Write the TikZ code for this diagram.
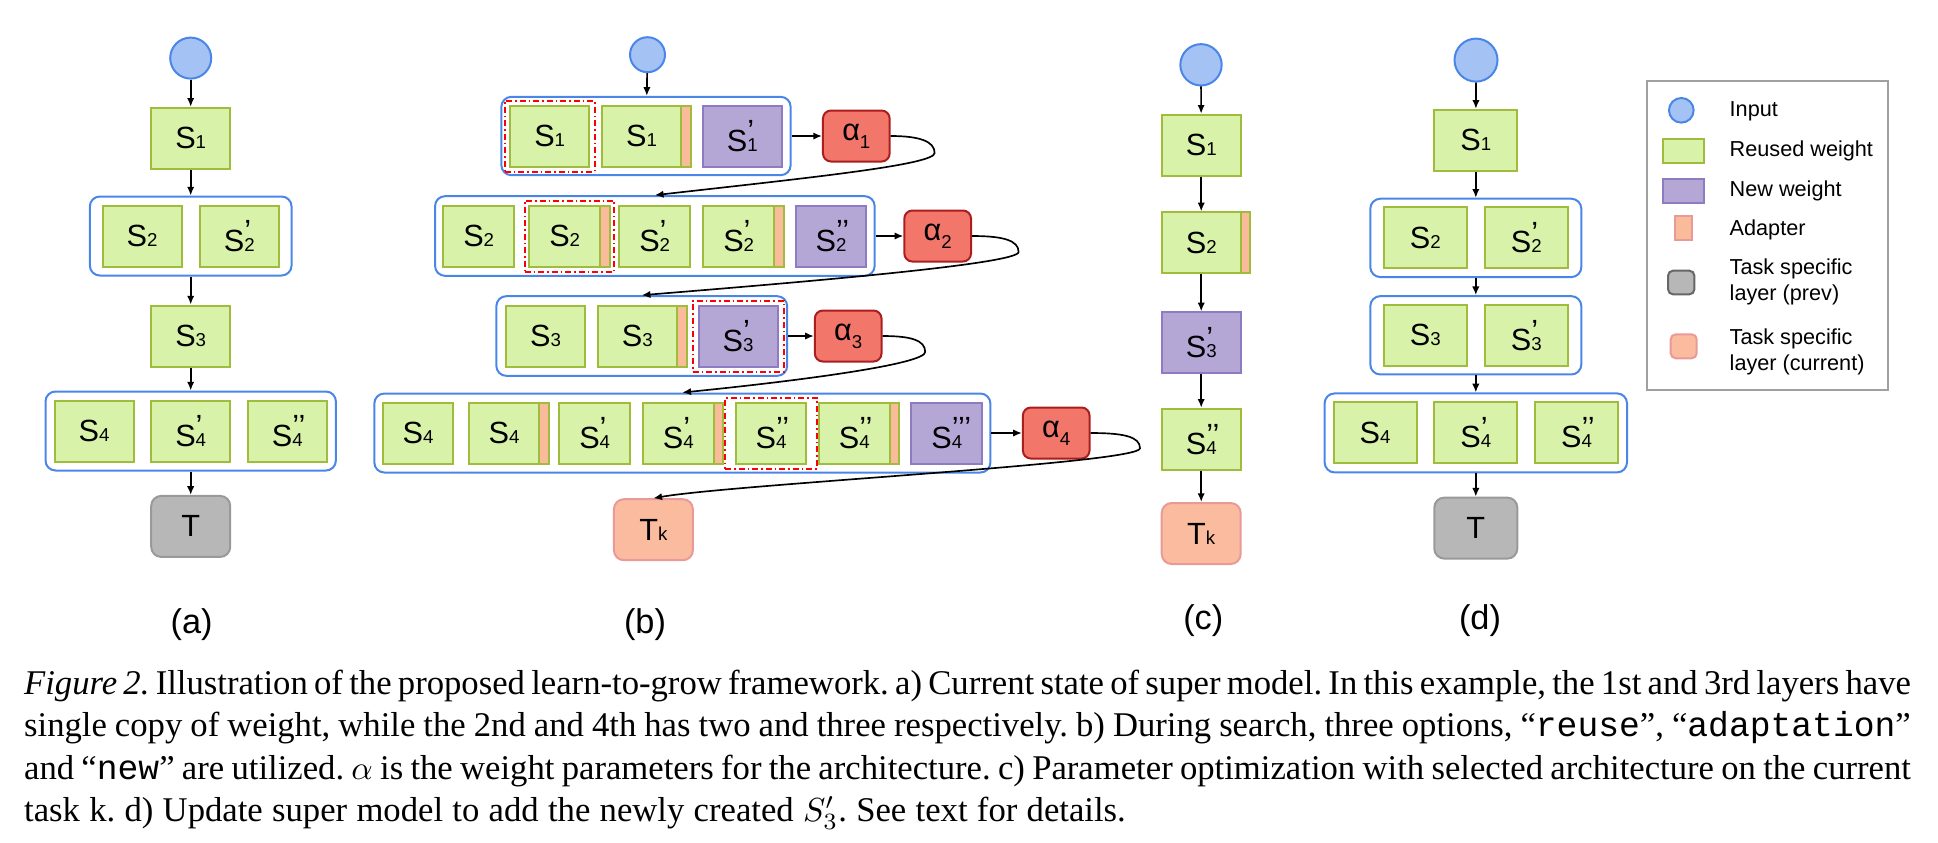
\documentclass[tikz,border=0pt]{standalone}
\usepackage{fontspec}
\setmainfont{Liberation Serif}
\setsansfont{Liberation Sans}
\setmonofont{Liberation Mono}
\usetikzlibrary{arrows.meta, positioning, fit, calc}

\definecolor{reuseGreen}{RGB}{217,242,169}
\definecolor{reuseLine}{RGB}{160,188,60}
\definecolor{newPurple}{RGB}{180,167,214}
\definecolor{newLine}{RGB}{142,124,195}
\definecolor{adaptPeach}{RGB}{249,187,154}
\definecolor{curPeach}{RGB}{250,187,158}
\definecolor{curLine}{RGB}{234,153,153}
\definecolor{prevGray}{RGB}{183,183,183}
\definecolor{prevLine}{RGB}{153,153,153}
\definecolor{legendDark}{RGB}{102,102,102}
\definecolor{legendGray}{RGB}{160,160,160}
\definecolor{alphaRed}{RGB}{243,118,106}
\definecolor{alphaLine}{RGB}{170,30,30}
\definecolor{inputBlue}{RGB}{164,194,244}
\definecolor{inputLine}{RGB}{74,134,232}
\definecolor{groupBlue}{RGB}{74,134,232}

% small digits and primes of the weight labels
\newcommand{\subsz}{\fontsize{5.6pt}{6pt}\selectfont}
\newcommand{\wlab}[2]{S\rlap{\raisebox{0.3em}{#2}}{\subsz #1}}
\newcommand{\alab}[1]{α\raisebox{-2.5pt}{\subsz #1}}

\begin{document}
\frenchspacing
\begin{tikzpicture}[x=0.3pt, y=-0.3pt,
    font=\sffamily\fontsize{9.2pt}{11pt}\selectfont,
    blk/.style={draw, line width=0.6pt, minimum width=23.7pt, minimum height=18.3pt, inner sep=0pt},
    narrow/.style={minimum width=21.2pt},
    wide/.style={minimum width=24.9pt},
    reuse/.style={blk, draw=reuseLine, fill=reuseGreen},
    fresh/.style={blk, draw=newLine, fill=newPurple},
    adapt/.style={blk, draw=reuseLine, fill=adaptPeach, minimum width=2.9pt},
    grp/.style={draw=groupBlue, line width=0.6pt, rounded corners=3pt, inner xsep=2.4pt, inner ysep=2.4pt},
    inp/.style={circle, draw=inputLine, fill=inputBlue, line width=0.6pt, minimum size=12.3pt, inner sep=0pt},
    task/.style={blk, rounded corners=3pt, draw=prevLine, fill=prevGray},
    taskk/.style={blk, rounded corners=3pt, draw=curLine, fill=curPeach},
    alpha/.style={draw=alphaLine, fill=alphaRed, line width=0.6pt, rounded corners=2.4pt,
                  minimum width=20pt, minimum height=15.3pt, inner sep=0pt},
    pick/.style={draw=red, line width=0.6pt, dash pattern=on 1.8pt off 0.9pt on 0.45pt off 0.9pt,
                 inner xsep=1.3pt, inner ysep=1.2pt},
    arr/.style={-{Latex[length=2.6pt,width=2.2pt]}, line width=0.5pt},
    sublab/.style={font=\sffamily\fontsize{10.3pt}{12pt}\selectfont},
    leg/.style={font=\sffamily\fontsize{6.5pt}{8pt}\selectfont, inner sep=0pt},
    capline/.style={font=\rmfamily\fontsize{10.4pt}{12pt}\selectfont, inner sep=0pt, anchor=base west}
  ]
    \useasboundingbox (0,0) rectangle (1938,842);

    % (a) current super model
    \node[inp] (ain) at (190.7,58.1) {};
    \node[reuse] (aS1) at (190.7,138.3) {\wlab{1}{}};
    \node[reuse] (aS2) at (142,236) {\wlab{2}{}};
    \node[reuse] (aS2p) at (239.4,236) {\wlab{2}{’}};
    \node[grp, fit=(aS2)(aS2p), inner xsep=3.5pt] (ag2) {};
    \node[reuse] (aS3) at (190.7,336) {\wlab{3}{}};
    \node[reuse] (aS4) at (94,431) {\wlab{4}{}};
    \node[reuse] (aS4p) at (190.7,431) {\wlab{4}{’}};
    \node[reuse] (aS4pp) at (287.4,431) {\wlab{4}{’’}};
    \node[grp, fit=(aS4)(aS4pp)] (ag4) {};
    \node[task] (aT) at (190.7,526.4) {T};
    \node[sublab] (alab) at (191.7,625) {(a)};

    \draw[arr] (ain) -- (aS1);
    \draw[arr] (aS1) -- (ag2);
    \draw[arr] (ag2) -- (aS3);
    \draw[arr] (aS3) -- (ag4);
    \draw[arr] (ag4) -- (aT);

    % (b) search with reuse / adaptation / new
    \node[inp, minimum size=10.5pt] (bin) at (647.5,54.7) {};

    \node[reuse] (b1a) at (549.7,136) {\wlab{1}{}};
    \node[reuse] (b1b) at (641.5,136) {\wlab{1}{}};
    \node[adapt, right=-0.6pt of b1b] (b1bx) {};
    \node[fresh] (b1c) at (742.3,136) {\wlab{1}{’}};
    \node[grp, fit=(b1a)(b1c), inner xsep=2.35pt, inner ysep=2.3pt] (bg1) {};
    \node[pick, fit=(b1a)] (bp1) {};
    \node[alpha, right=9.1pt of bg1] (al1) {\alab{1}};

    \node[reuse, narrow] (b2a) at (478.7,236) {\wlab{2}{}};
    \node[reuse, narrow] (b2b) at (564.7,236) {\wlab{2}{}};
    \node[adapt, right=-0.6pt of b2b] (b2bx) {};
    \node[reuse, narrow] (b2c) at (654.7,236) {\wlab{2}{’}};
    \node[reuse, narrow] (b2d) at (738.7,236) {\wlab{2}{’}};
    \node[adapt, right=-0.6pt of b2d] (b2dx) {};
    \node[fresh, narrow] (b2e) at (831,236) {\wlab{2}{’’}};
    \node[grp, fit=(b2a)(b2e), inner xsep=2.2pt, inner ysep=2.5pt] (bg2) {};
    \node[pick, fit=(b2b)(b2bx), inner xsep=1.1pt] (bp2) {};
    \node[alpha, right=8.3pt of bg2] (al2) {\alab{2}};

    \node[reuse] (b3a) at (545.5,336) {\wlab{3}{}};
    \node[reuse] (b3b) at (637.4,336) {\wlab{3}{}};
    \node[adapt, right=-0.6pt of b3b] (b3bx) {};
    \node[fresh] (b3c) at (738,336) {\wlab{3}{’}};
    \node[grp, fit=(b3a)(b3c), inner xsep=2.6pt, inner ysep=2.5pt] (bg3) {};
    \node[pick, fit=(b3c), inner xsep=1.5pt] (bp3) {};
    \node[alpha, right=7.7pt of bg3] (al3) {\alab{3}};

    \node[reuse, narrow] (b4a) at (418,433) {\wlab{4}{}};
    \node[reuse, narrow] (b4b) at (504,433) {\wlab{4}{}};
    \node[adapt, right=-0.6pt of b4b] (b4bx) {};
    \node[reuse, narrow] (b4c) at (594.7,433) {\wlab{4}{’}};
    \node[reuse, narrow] (b4d) at (678.3,433) {\wlab{4}{’}};
    \node[adapt, right=-0.6pt of b4d] (b4dx) {};
    \node[reuse, narrow] (b4e) at (771,433) {\wlab{4}{’’}};
    \node[reuse, narrow] (b4f) at (854.4,433) {\wlab{4}{’’}};
    \node[adapt, right=-0.6pt of b4f] (b4fx) {};
    \node[fresh, narrow] (b4g) at (946.7,433) {\wlab{4}{’’’}};
    \node[grp, fit=(b4a)(b4g), inner xsep=2.2pt, inner ysep=2.4pt] (bg4) {};
    \node[pick, fit=(b4e), inner xsep=2.85pt] (bp4) {};
    \node[alpha, right=9.15pt of bg4] (al4) {\alab{4}};

    \node[taskk] (bTk) at (653.4,529.7) {T{\subsz k}};
    \node[sublab] (blab) at (645,625) {(b)};

    \coordinate (bt1) at ($(al1.east)+(44,17)$);
    \coordinate (bt2) at ($(al2.east)+(46.6,16)$);
    \coordinate (bt3) at ($(al3.east)+(42.7,16)$);
    \coordinate (bt4) at ($(al4.east)+(49.5,15.3)$);

    \draw[arr] (bin) -- (bg1);
    \draw[arr] (bg1) -- (al1);
    \draw[arr] (bg2) -- (al2);
    \draw[arr] (bg3) -- (al3);
    \draw[arr] (bg4) -- (al4);
    \draw[arr] (al1.east) .. controls ($(al1.east)+(28,0)$) and ($(bt1)+(0,-12)$) .. (bt1)
      .. controls ($(bt1)+(0,12)$) and ($(bg2.north)+(150,-17)$) .. (bg2.north);
    \draw[arr] (al2.east) .. controls ($(al2.east)+(30,0)$) and ($(bt2)+(0,-12)$) .. (bt2)
      .. controls ($(bt2)+(0,12)$) and ($(bg3.north)+(160,-13)$) .. (bg3.north);
    \draw[arr] (al3.east) .. controls ($(al3.east)+(28,0)$) and ($(bt3)+(0,-12)$) .. (bt3)
      .. controls ($(bt3)+(0,12)$) and ($(bg4.north)+(120,-12)$) .. (bg4.north);
    \draw[arr] (al4.east) .. controls ($(al4.east)+(32,0)$) and ($(bt4)+(0,-12)$) .. (bt4)
      .. controls ($(bt4)+(0,15)$) and ($(bTk.north)+(80,-14)$) .. (bTk.north);

    % (c) selected architecture
    \node[inp, minimum size=12.4pt] (cin) at (1201,64.8) {};
    \node[reuse] (cS1) at (1201.2,145.2) {\wlab{1}{}};
    \node[reuse] (cS2) at (1201.2,242.9) {\wlab{2}{}};
    \node[adapt, right=-0.6pt of cS2] (cS2x) {};
    \node[fresh] (cS3) at (1201.2,342.9) {\wlab{3}{’}};
    \node[reuse] (cS4) at (1201.2,439.2) {\wlab{4}{’’}};
    \node[taskk] (cTk) at (1201.2,533.5) {T{\subsz k}};
    \node[sublab] (clab) at (1203.3,621) {(c)};

    \draw[arr] (cin) -- (cS1);
    \draw[arr] (cS1) -- (cS2);
    \draw[arr] (cS2) -- (cS3);
    \draw[arr] (cS3) -- (cS4);
    \draw[arr] (cS4) -- (cTk);

    % (d) updated super model
    \node[inp, minimum size=12.9pt] (din) at (1476,60.1) {};
    \node[reuse, wide] (dS1) at (1475.8,140.3) {\wlab{1}{}};
    \node[reuse, wide] (dS2) at (1425.3,237.9) {\wlab{2}{}};
    \node[reuse, wide] (dS2p) at (1526.3,237.9) {\wlab{2}{’}};
    \node[grp, fit=(dS2)(dS2p), inner xsep=3.75pt, inner ysep=2.3pt] (dg2) {};
    \node[reuse, wide] (dS3) at (1425.3,335.3) {\wlab{3}{}};
    \node[reuse, wide] (dS3p) at (1526.3,335.3) {\wlab{3}{’}};
    \node[grp, fit=(dS3)(dS3p), inner xsep=3.75pt, inner ysep=2.3pt] (dg3) {};
    \node[reuse, wide] (dS4) at (1375.1,432.9) {\wlab{4}{}};
    \node[reuse, wide] (dS4p) at (1475.8,432.9) {\wlab{4}{’}};
    \node[reuse, wide] (dS4pp) at (1576.5,432.9) {\wlab{4}{’’}};
    \node[grp, fit=(dS4)(dS4pp)] (dg4) {};
    \node[task, wide] (dT) at (1475.8,528.1) {T};
    \node[sublab] (dlab) at (1480,621) {(d)};

    \draw[arr] (din) -- (dS1);
    \draw[arr] (dS1) -- (dg2);
    \draw[arr] (dg2) -- (dg3);
    \draw[arr] (dg3) -- (dg4);
    \draw[arr] (dg4) -- (dT);

    % legend
    \draw[legendGray, line width=0.6pt] (1646.7,80.7) rectangle (1887.7,390);
    \node[inp, minimum size=7.4pt] (lin) at (1681.3,110.3) {};
    \node[reuse, minimum width=12.2pt, minimum height=7.2pt] (lre) at (1683.7,150.7) {};
    \node[fresh, minimum width=12.2pt, minimum height=7.3pt] (lne) at (1683.7,191.2) {};
    \node[adapt, draw=curLine, minimum width=5pt, minimum height=7.2pt] (lad) at (1683.7,228.3) {};
    \node[task, draw=legendDark, minimum width=7.9pt, minimum height=7.1pt, rounded corners=1.5pt] (ltp) at (1681.2,282.5) {};
    \node[taskk, minimum width=7.8pt, minimum height=7.2pt, rounded corners=1.5pt] (ltc) at (1683.7,346.3) {};
    \node[leg, anchor=base west] (tin) at (1729,116.7) {Input};
    \node[leg, anchor=base west] (tre) at (1729,156.7) {Reused weight};
    \node[leg, anchor=base west] (tne) at (1729,196.7) {New weight};
    \node[leg, anchor=base west] (tad) at (1729,235) {Adapter};
    \node[leg, anchor=west, align=left] (ttp) at (1729,281.8) {Task specific\\layer (prev)};
    \node[leg, anchor=west, align=left] (ttc) at (1729,351.8) {Task specific\\layer (current)};

    % caption
    \node[capline] (cap1) at (23.5,694.3) {\makebox[566pt][s]{\textit{Figure 2.} Illustration of the proposed learn-to-grow framework. a) Current state of super model. In this example, the 1st and 3rd layers have}};
    \node[capline] (cap2) at (23.5,736.7) {\makebox[566pt][s]{single copy of weight, while the 2nd and 4th has two and three respectively. b) During search, three options, “\texttt{reuse}”, “\texttt{adaptation}”}};
    \node[capline] (cap3) at (23.5,779) {\makebox[566pt][s]{and “\texttt{new}” are utilized. $\alpha$ is the weight parameters for the architecture. c) Parameter optimization with selected architecture on the current}};
    \node[capline] (cap4) at (23.5,821.4) {\makebox[330.5pt][s]{task k. d) Update super model to add the newly created $S'_3$. See text for details.}};
  \end{tikzpicture}
\end{document}
